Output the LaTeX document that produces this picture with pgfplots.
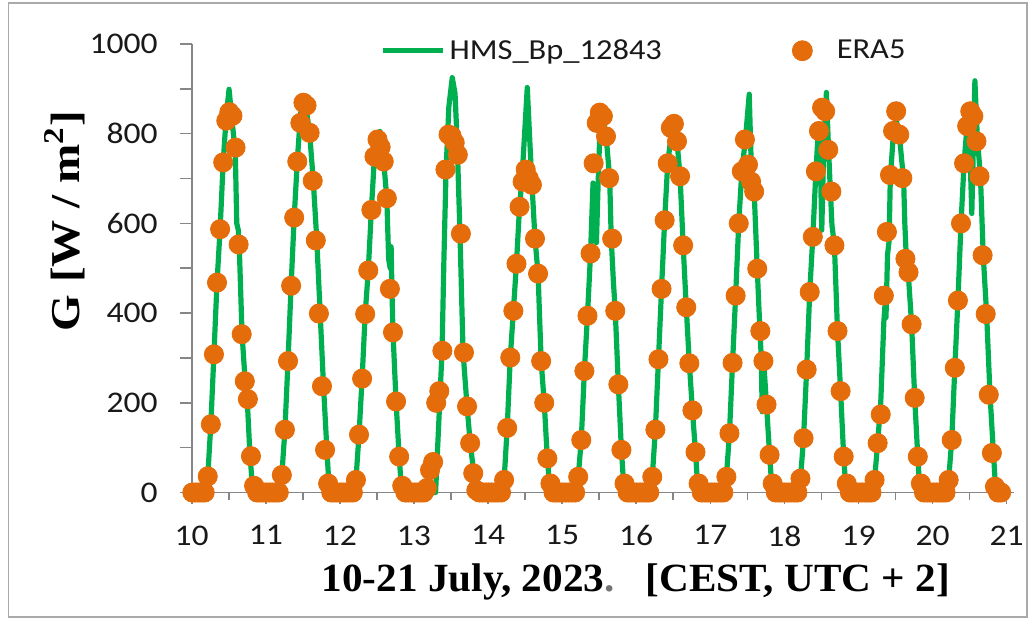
\documentclass[border=0pt]{standalone}
\usepackage{pgfplots}
\pgfplotsset{compat=1.18}
\usepackage{pgfplotstable}
\usepackage{fontspec}
\setmainfont{Carlito}[FakeStretch=1.12]
\newfontfamily\tnr{Liberation Serif}[FakeStretch=1.03]
\newfontfamily\tnrw{Liberation Serif}[FakeStretch=1.15]
\definecolor{hmsgreen}{HTML}{00B050}
\definecolor{eraorange}{HTML}{E46C0A}
\definecolor{axgray}{HTML}{868686}

% ERA5 hourly values: day, hour (CEST), G [W/m2]
\pgfplotstableread[row sep=\\]{
d h v\\
10 0 0\\ 10 1 0\\ 10 2 0\\ 10 3 0\\ 10 4 0\\ 10 5 36\\ 10 6 152\\ 10 7 308\\ 10 8 468\\ 10 9 587\\ 10 10 736\\ 10 11 829\\ 10 12 848\\ 10 13 840\\ 10 14 769\\ 10 15 553\\ 10 16 353\\ 10 17 248\\ 10 18 208\\ 10 19 81\\ 10 20 15\\ 10 21 0\\ 10 22 0\\ 10 23 0\\
11 0 0\\ 11 1 0\\ 11 2 0\\ 11 3 0\\ 11 4 0\\ 11 5 39\\ 11 6 140\\ 11 7 293\\ 11 8 461\\ 11 9 613\\ 11 10 738\\ 11 11 824\\ 11 12 869\\ 11 13 863\\ 11 14 802\\ 11 15 695\\ 11 16 562\\ 11 17 399\\ 11 18 237\\ 11 19 95\\ 11 20 20\\ 11 21 0\\ 11 22 0\\ 11 23 0\\
12 0 0\\ 12 1 0\\ 12 2 0\\ 12 3 0\\ 12 4 0\\ 12 5 28\\ 12 6 129\\ 12 7 254\\ 12 8 398\\ 12 9 495\\ 12 10 630\\ 12 11 749\\ 12 12 787\\ 12 13 770\\ 12 14 738\\ 12 15 656\\ 12 16 454\\ 12 17 357\\ 12 18 203\\ 12 19 80\\ 12 20 15\\ 12 21 0\\ 12 22 0\\ 12 23 0\\
13 0 0\\ 13 1 0\\ 13 2 0\\ 13 3 0\\ 13 4 10\\ 13 5 50\\ 13 6 68\\ 13 7 200\\ 13 8 226\\ 13 9 316\\ 13 10 720\\ 13 11 798\\ 13 12 795\\ 13 13 780\\ 13 14 753\\ 13 15 577\\ 13 16 312\\ 13 17 192\\ 13 18 110\\ 13 19 43\\ 13 20 5\\ 13 21 0\\ 13 22 0\\ 13 23 0\\
14 0 0\\ 14 1 0\\ 14 2 0\\ 14 3 0\\ 14 4 0\\ 14 5 28\\ 14 6 144\\ 14 7 301\\ 14 8 405\\ 14 9 510\\ 14 10 637\\ 14 11 693\\ 14 12 720\\ 14 13 700\\ 14 14 686\\ 14 15 566\\ 14 16 488\\ 14 17 293\\ 14 18 200\\ 14 19 76\\ 14 20 20\\ 14 21 0\\ 14 22 0\\ 14 23 0\\
15 0 0\\ 15 1 0\\ 15 2 0\\ 15 3 0\\ 15 4 0\\ 15 5 35\\ 15 6 117\\ 15 7 271\\ 15 8 394\\ 15 9 533\\ 15 10 734\\ 15 11 824\\ 15 12 847\\ 15 13 839\\ 15 14 794\\ 15 15 701\\ 15 16 566\\ 15 17 405\\ 15 18 241\\ 15 19 95\\ 15 20 20\\ 15 21 0\\ 15 22 0\\ 15 23 0\\
16 0 0\\ 16 1 0\\ 16 2 0\\ 16 3 0\\ 16 4 0\\ 16 5 35\\ 16 6 140\\ 16 7 297\\ 16 8 454\\ 16 9 607\\ 16 10 734\\ 16 11 813\\ 16 12 822\\ 16 13 783\\ 16 14 705\\ 16 15 551\\ 16 16 413\\ 16 17 288\\ 16 18 183\\ 16 19 90\\ 16 20 20\\ 16 21 0\\ 16 22 0\\ 16 23 0\\
17 0 0\\ 17 1 0\\ 17 2 0\\ 17 3 0\\ 17 4 0\\ 17 5 35\\ 17 6 132\\ 17 7 289\\ 17 8 439\\ 17 9 600\\ 17 10 716\\ 17 11 787\\ 17 12 731\\ 17 13 693\\ 17 14 671\\ 17 15 499\\ 17 16 360\\ 17 17 293\\ 17 18 196\\ 17 19 84\\ 17 20 20\\ 17 21 0\\ 17 22 0\\ 17 23 0\\
18 0 0\\ 18 1 0\\ 18 2 0\\ 18 3 0\\ 18 4 0\\ 18 5 31\\ 18 6 121\\ 18 7 274\\ 18 8 447\\ 18 9 570\\ 18 10 716\\ 18 11 806\\ 18 12 858\\ 18 13 850\\ 18 14 764\\ 18 15 671\\ 18 16 551\\ 18 17 360\\ 18 18 226\\ 18 19 80\\ 18 20 20\\ 18 21 0\\ 18 22 0\\ 18 23 0\\
19 0 0\\ 19 1 0\\ 19 2 0\\ 19 3 0\\ 19 4 0\\ 19 5 28\\ 19 6 110\\ 19 7 174\\ 19 8 439\\ 19 9 581\\ 19 10 708\\ 19 11 806\\ 19 12 850\\ 19 13 798\\ 19 14 701\\ 19 15 521\\ 19 16 491\\ 19 17 375\\ 19 18 211\\ 19 19 80\\ 19 20 20\\ 19 21 0\\ 19 22 0\\ 19 23 0\\
20 0 0\\ 20 1 0\\ 20 2 0\\ 20 3 0\\ 20 4 0\\ 20 5 28\\ 20 6 117\\ 20 7 278\\ 20 8 428\\ 20 9 600\\ 20 10 734\\ 20 11 817\\ 20 12 850\\ 20 13 839\\ 20 14 783\\ 20 15 705\\ 20 16 529\\ 20 17 398\\ 20 18 218\\ 20 19 88\\ 20 20 13\\ 20 21 0\\ 20 22 0\\
}\eratable

% HMS Budapest station 12843: day, hour (CEST), G [W/m2]
\pgfplotstableread[row sep=\\]{
d h v\\
10 0 0\\ 10 4.8 0\\ 10 5.2 36\\ 10 6.2 152\\ 10 7.2 308\\ 10 8.2 468\\ 10 9.2 587\\ 10 10.2 736\\ 10 11.2 840\\ 10 12.1 899\\ 10 12.8 850\\ 10 13.5 800\\ 10 14.1 765\\ 10 14.6 600\\ 10 15.1 585\\ 10 15.4 550\\ 10 16.3 355\\ 10 17.3 250\\ 10 18.0 205\\ 10 18.9 80\\ 10 19.8 5\\ 10 20.2 0\\
11 4.8 0\\ 11 5.2 39\\ 11 6.2 140\\ 11 7.2 293\\ 11 8.2 461\\ 11 9.2 613\\ 11 10.2 738\\ 11 11.2 840\\ 11 12.0 880\\ 11 12.6 870\\ 11 13.2 850\\ 11 14.2 802\\ 11 15.4 693\\ 11 16.5 566\\ 11 17.6 402\\ 11 18.7 237\\ 11 19.8 95\\ 11 20.6 0\\
12 4.8 0\\ 12 5.2 28\\ 12 6.2 129\\ 12 7.2 254\\ 12 8.2 398\\ 12 9.2 495\\ 12 10.2 630\\ 12 11.2 749\\ 12 12.3 790\\ 12 13.0 805\\ 12 13.6 770\\ 12 14.2 738\\ 12 15.2 656\\ 12 15.8 520\\ 12 16.3 500\\ 12 16.6 548\\ 12 16.9 440\\ 12 17.2 357\\ 12 18.2 203\\ 12 19.2 80\\ 12 20.0 5\\ 12 20.3 0\\
13 7.0 0\\ 13 8.0 150\\ 13 9.1 316\\ 13 9.7 520\\ 13 10.4 720\\ 13 11.3 860\\ 13 12.4 925\\ 13 13.3 890\\ 13 14.0 780\\ 13 14.9 578\\ 13 15.9 313\\ 13 17.2 192\\ 13 18.2 112\\ 13 19.5 36\\ 13 20.4 0\\
14 4.8 0\\ 14 5.2 28\\ 14 6.2 144\\ 14 7.2 301\\ 14 8.2 405\\ 14 9.2 510\\ 14 10.2 637\\ 14 11.0 700\\ 14 12.7 903\\ 14 14.0 715\\ 14 15.2 566\\ 14 16.2 488\\ 14 17.2 293\\ 14 18.2 200\\ 14 19.2 76\\ 14 20.0 10\\ 14 20.4 0\\
15 4.8 0\\ 15 5.2 35\\ 15 6.2 117\\ 15 7.2 271\\ 15 8.2 394\\ 15 9.2 533\\ 15 10.0 690\\ 15 10.5 640\\ 15 11.1 557\\ 15 11.7 700\\ 15 12.3 820\\ 15 12.7 850\\ 15 13.2 839\\ 15 14.3 790\\ 15 15.4 700\\ 15 15.9 566\\ 15 16.6 470\\ 15 17.2 405\\ 15 18.2 241\\ 15 19.2 95\\ 15 20.0 10\\ 15 20.4 0\\
16 4.8 0\\ 16 5.2 35\\ 16 6.2 140\\ 16 7.2 297\\ 16 8.2 454\\ 16 9.2 607\\ 16 10.2 734\\ 16 11.2 790\\ 16 12.2 810\\ 16 13.2 783\\ 16 14.2 705\\ 16 15.2 551\\ 16 16.2 413\\ 16 17.2 288\\ 16 18.2 183\\ 16 19.2 90\\ 16 20.0 5\\ 16 20.3 0\\
17 4.8 0\\ 17 5.2 35\\ 17 6.2 132\\ 17 7.2 289\\ 17 8.2 439\\ 17 9.2 600\\ 17 10.2 716\\ 17 11.4 790\\ 17 12.6 888\\ 17 13.3 720\\ 17 14.2 671\\ 17 15.2 499\\ 17 16.0 370\\ 17 16.5 300\\ 17 16.8 180\\ 17 17.1 300\\ 17 17.4 280\\ 17 18.2 196\\ 17 19.2 84\\ 17 20.0 5\\ 17 20.3 0\\
18 4.8 0\\ 18 5.2 31\\ 18 6.2 121\\ 18 7.2 274\\ 18 8.2 447\\ 18 9.2 570\\ 18 10.2 716\\ 18 11.0 810\\ 18 11.6 750\\ 18 12.1 585\\ 18 12.7 760\\ 18 13.6 892\\ 18 14.3 764\\ 18 14.9 671\\ 18 15.4 596\\ 18 16.2 551\\ 18 17.2 360\\ 18 18.2 226\\ 18 19.2 80\\ 18 20.0 0\\
19 4.8 0\\ 19 5.2 28\\ 19 6.2 110\\ 19 7.2 200\\ 19 8.2 380\\ 19 8.6 420\\ 19 8.9 390\\ 19 9.4 530\\ 19 9.9 560\\ 19 10.3 700\\ 19 11.2 790\\ 19 12.2 830\\ 19 13.2 800\\ 19 14.0 740\\ 19 14.6 700\\ 19 15.0 600\\ 19 15.5 521\\ 19 16.2 480\\ 19 17.2 375\\ 19 18.2 211\\ 19 19.2 80\\ 19 19.9 0\\
20 4.8 0\\ 20 5.2 28\\ 20 6.2 117\\ 20 7.2 278\\ 20 8.2 428\\ 20 9.2 600\\ 20 10.2 734\\ 20 11.0 805\\ 20 11.8 830\\ 20 12.7 622\\ 20 13.7 918\\ 20 14.5 790\\ 20 15.5 705\\ 20 16.4 529\\ 20 17.5 398\\ 20 18.6 218\\ 20 19.7 88\\ 20 20.5 0\\ 20 22.3 0\\
}\hmstable

\begin{document}
\begin{tikzpicture}
\useasboundingbox (0,0) rectangle (515pt,310pt);
\draw[axgray!70, line width=0.6pt] (4.3pt,1.5pt) rectangle (513.5pt,308.5pt);
\begin{axis}[
  at={(95.85pt,63.75pt)}, anchor=south west,
  scale only axis, width=411.2pt, height=224.25pt,
  xmin=10, xmax=21.1, ymin=0, ymax=1000,
  axis x line=bottom, axis y line=left,
  axis line style={axgray, line width=0.8pt, -},
  every tick/.style={axgray, line width=0.8pt},
  tick align=outside,
  major tick length=6pt, minor tick length=4pt,
  xtick={10,...,21}, minor x tick num=1,
  ytick={0,100,...,1000},
  yticklabels={0,,200,,400,,600,,800,,1000},
  /pgf/number format/assume math mode=true,
  ticklabel style={font=\fontsize{15}{18}\selectfont, text=black!90},
  xticklabel style={yshift=-7pt},
  yticklabel style={xshift=-7.5pt},
  xlabel={\tnr\bfseries 10-21 July, 2023\textcolor{black!55}{.}~~~[CEST, UTC + 2]},
  xlabel style={at={(axis description cs:0.54,-0.2218)}, anchor=base, font=\fontsize{20}{24}\selectfont},
  ylabel={\tnrw\bfseries G [W / m\textsuperscript{2}]},
  ylabel style={at={(axis description cs:-0.137,0.605)}, anchor=base, rotate=0, font=\fontsize{20.5}{24}\selectfont},
  legend columns=2,
  legend style={at={(axis description cs:0.229,0.985)}, anchor=west, draw=none, fill=none, inner sep=0pt,
    font=\fontsize{14.5}{17}\selectfont, text=black!90,
    /tikz/every even column/.append style={column sep=63pt}},
  clip=false,
]
\addplot[hmsgreen, line width=2.6pt, line join=round, no markers,
  legend image code/.code={\draw[hmsgreen, line width=2.6pt] (0pt,0pt) -- (30pt,0pt);}]
  table[x expr=\thisrow{d}+\thisrow{h}/24, y=v] {\hmstable};
\addlegendentry{HMS\_Bp\_12843}
\addplot[only marks, mark=*, mark size=4.8pt, mark options={draw=eraorange, fill=eraorange},
  legend image code/.code={\fill[eraorange] (5pt,0pt) circle (5pt);}]
  table[x expr=\thisrow{d}+(\thisrow{h}+0.2)/24, y=v] {\eratable};
\addlegendentry{\hspace{10pt}ERA5}
\end{axis}
\end{tikzpicture}
\end{document}
